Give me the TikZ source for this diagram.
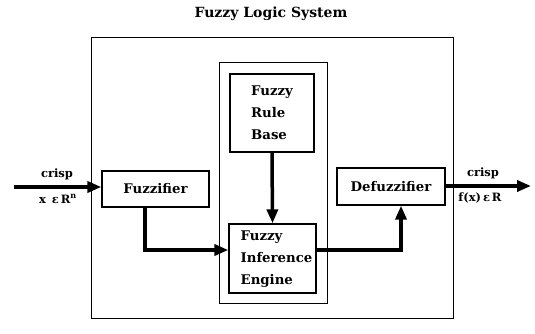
\documentclass[tikz,border=0pt]{standalone}
\usepackage{fontspec}
\setmainfont{DejaVu Serif}
\usetikzlibrary{arrows.meta}
\begin{document}
\begin{tikzpicture}[x=1pt,y=-1pt,
  box/.style={draw,line width=1.3pt,inner sep=0pt,font=\bfseries\fontsize{13.3}{22}\selectfont},
  flow/.style={line width=3.5pt,-{Triangle[length=14pt,width=11pt]}},
  lbl/.style={font=\bfseries\fontsize{11.5}{13}\selectfont,inner sep=0pt}]
\useasboundingbox (0,0) rectangle (535,334);
\node[font=\bfseries\fontsize{14}{16}\selectfont] (title) at (271,14) {Fuzzy Logic System};
\draw[line width=1pt] (91,38) rectangle (453,318);
\draw[line width=1pt] (219,63) rectangle (327,303);
\node[box,minimum width=84pt,minimum height=78pt,align=left] (rule) at (272,113) {Fuzzy\\Rule\\Base};
\node[box,minimum width=87pt,minimum height=69pt] (eng) at (272.5,258.5)
  {\raisebox{-4pt}{\begin{tabular}{@{\hspace{8pt}}l@{}}Fuzzy\\Inference\\Engine\end{tabular}}};
\node[box,minimum width=107pt,minimum height=36pt] (fuzz) at (155.5,189) {Fuzzifier};
\node[box,minimum width=108pt,minimum height=37pt] (defuzz) at (391,186.5) {Defuzzifier};
\coordinate (in) at (14,187);
\coordinate (out) at (531,186);
\draw[flow] (in) -- (fuzz.west |- in);
\draw[flow] (defuzz.east |- out) -- (out);
\node[lbl] at (57,174) {crisp};
\node[lbl] at (58,199) {x \,ε\,R$^{\mathbf{n}}$};
\node[lbl] at (483,173) {crisp};
\node[lbl] at (480,198) {f(x)\,ε\,R};
\draw[flow] (rule.south) -- (eng.north);
\draw[flow] (fuzz.south -| 145,0) |- (eng.west |- 0,250);
\draw[flow] (eng.east |- 0,250) -| (defuzz.south -| 401,0);
\end{tikzpicture}
\end{document}
